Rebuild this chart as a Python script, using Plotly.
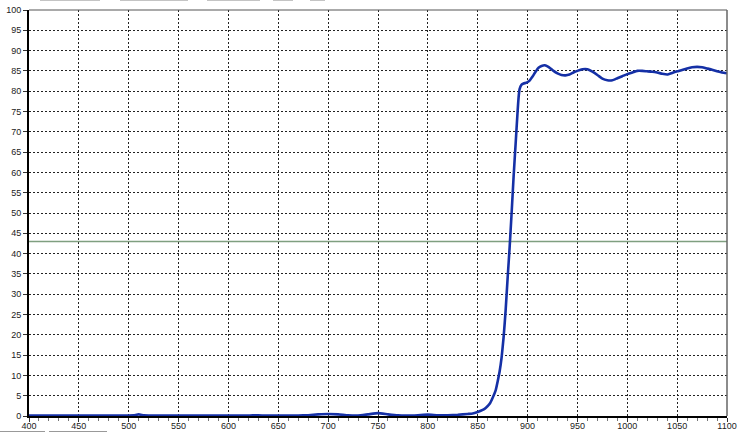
import plotly.graph_objects as go

# Transmission spectrum (wavelength in nm, transmittance in %)
wavelength = [400, 420, 440, 460, 480, 500, 505, 510, 515, 520, 540, 560, 580, 600, 620,
              630, 640, 650, 660, 670, 680, 690, 700, 710, 720, 730, 740, 750, 760, 770,
              780, 790, 800, 810, 820, 830, 840, 845, 850, 855, 858, 862, 865, 868, 870,
              872, 874, 876, 878, 880, 882, 884, 886, 888, 890, 891, 892, 894, 896, 899,
              902, 905, 908, 911, 914, 917, 920, 923, 926, 930, 934, 938, 942, 946, 950,
              955, 960, 965, 970, 975, 980, 985, 990, 995, 1000, 1005, 1010, 1015, 1020,
              1025, 1030, 1035, 1040, 1045, 1050, 1055, 1060, 1065, 1070, 1075, 1080,
              1085, 1090, 1095, 1100]
transmittance = [0.1, 0.1, 0.1, 0.1, 0.1, 0.1, 0.15, 0.4, 0.15, 0.1, 0.1, 0.1, 0.1, 0.1, 0.1,
                 0.2, 0.1, 0.1, 0.1, 0.1, 0.2, 0.4, 0.5, 0.4, 0.15, 0.1, 0.4, 0.7, 0.4, 0.15,
                 0.1, 0.2, 0.35, 0.2, 0.2, 0.3, 0.5, 0.6, 1.0, 1.5, 2.0, 3.0, 4.5, 6.3, 8.5,
                 11.0, 14.5, 19.5, 26.0, 34.0, 41.5, 50.0, 59.0, 67.0, 75.0, 78.5, 80.5, 81.6, 81.9, 82.1,
                 82.6, 83.6, 84.8, 85.8, 86.2, 86.4, 86.1, 85.6, 85.0, 84.4, 84.0, 83.9, 84.1, 84.6, 85.0,
                 85.4, 85.4, 84.8, 84.0, 83.1, 82.7, 82.7, 83.2, 83.7, 84.2, 84.6, 85.0, 85.0, 84.9,
                 84.8, 84.6, 84.3, 84.1, 84.5, 84.9, 85.2, 85.6, 85.9, 86.0, 85.9, 85.6,
                 85.3, 84.9, 84.6, 84.4]
reference_level = 43

x_range = [400, 1100]
y_range = [0, 100]

W, H = 750, 433
ML, MR, MT, MB = 29, 23, 10, 17
PW, PH = W - ML - MR, H - MT - MB


def px_x(p):
    return (p - ML) / PW


def px_y(p):
    return (H - MB - p) / PH


fig = go.Figure()

fig.add_trace(go.Scatter(
    x=x_range, y=[reference_level, reference_level], mode="lines",
    line=dict(color="#7f9f80", width=1.5), hoverinfo="skip", showlegend=False,
))
fig.add_trace(go.Scatter(
    x=wavelength, y=transmittance, mode="lines",
    line=dict(color="#1530a6", width=2.6, shape="spline", smoothing=0.4),
    showlegend=False,
))

fig.update_layout(
    width=W, height=H,
    margin=dict(l=ML, r=MR, t=MT, b=MB, autoexpand=False),
    paper_bgcolor="white", plot_bgcolor="white",
    font=dict(family="Liberation Sans, Arial, sans-serif", size=9, color="#222"),
    showlegend=False,
)
fig.update_xaxes(
    range=x_range, dtick=50, tick0=400, automargin=False,
    showgrid=True, gridcolor="#222", gridwidth=1, griddash="2px,2px",
    showline=True, linecolor="black", linewidth=2,
    ticks="outside", ticklen=4, tickcolor="#333", ticklabelstandoff=-4,
    minor=dict(dtick=10, ticks="outside", ticklen=3, tickcolor="#777", showgrid=False),
    zeroline=False, fixedrange=True,
)
fig.update_yaxes(
    range=y_range, dtick=5, tick0=0, automargin=False,
    showgrid=True, gridcolor="#222", gridwidth=1, griddash="2px,2px",
    showline=True, linecolor="black", linewidth=2,
    ticks="outside", ticklen=4, tickcolor="#333",
    zeroline=False, fixedrange=True,
)

# frame: top and right border (gray)
fig.add_shape(type="line", xref="paper", yref="paper", x0=0, x1=1, y0=1, y1=1,
              line=dict(color="#555", width=1))
fig.add_shape(type="line", xref="paper", yref="paper", x0=1, x1=1, y0=0, y1=1,
              line=dict(color="#666", width=1.5))

# window chrome fragments at page edges
for a, b in [(40, 100), (120, 188), (207, 260), (273, 293), (310, 325)]:
    fig.add_shape(type="line", xref="paper", yref="paper",
                  x0=px_x(a), x1=px_x(b), y0=px_y(0.5), y1=px_y(0.5),
                  line=dict(color="#c4c4c4", width=1))
for a, b in [(0, 45), (49, 107)]:
    fig.add_shape(type="line", xref="paper", yref="paper",
                  x0=px_x(a), x1=px_x(b), y0=px_y(431.5), y1=px_y(431.5),
                  line=dict(color="#999", width=1))

fig.write_html(
    "out.html",
    config={"displayModeBar": False},
    post_script="document.body.style.margin='0px';document.body.style.padding='0px';",
)
